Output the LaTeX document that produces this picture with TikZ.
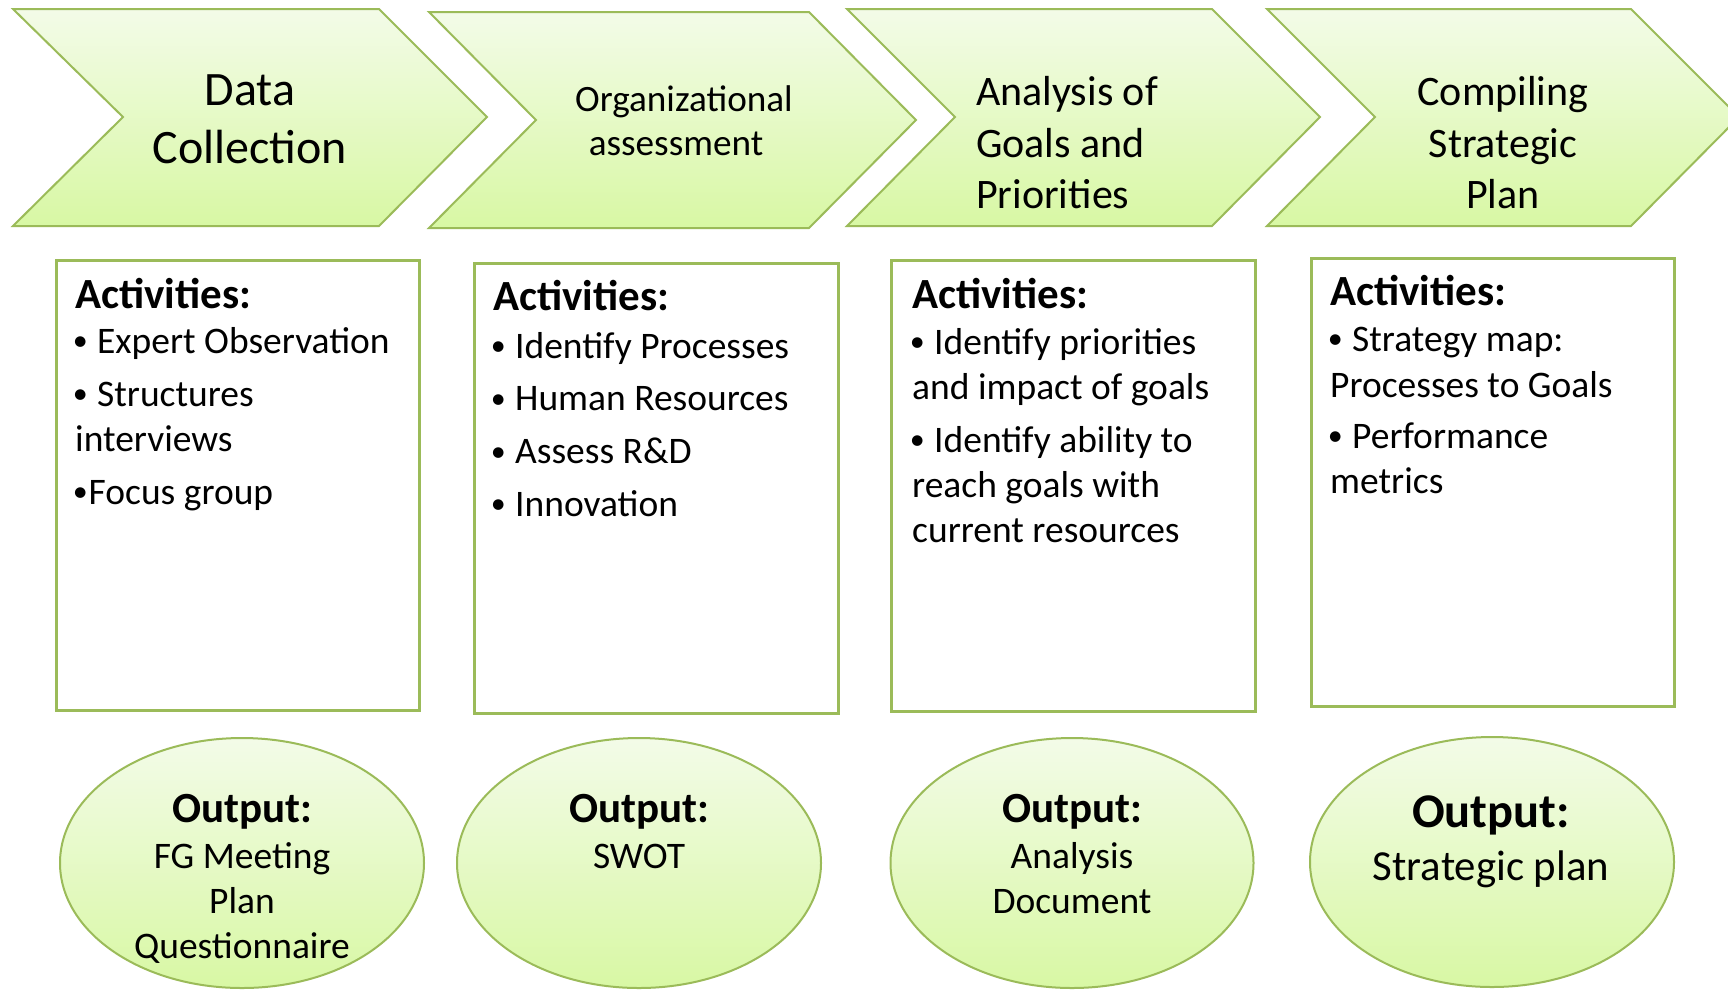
\documentclass[tikz,border=0pt]{standalone}
\usepackage{fontspec}
\setmainfont{Carlito}
\usetikzlibrary{shapes.geometric}
\definecolor{bordergreen}{RGB}{155,187,89}
\definecolor{ftop}{RGB}{243,251,232}
\definecolor{fbot}{RGB}{216,248,164}
\newcommand{\fs}[2]{\fontsize{#1}{#2}\selectfont}
\newcommand{\bu}{\makebox[0.36em][l]{\hspace{-0.06em}\raisebox{0.066em}{\scalebox{0.8}{•}}}}
\tikzset{
  chev/.style={draw=bordergreen, line width=2pt, top color=ftop, bottom color=fbot, line join=miter},
  actbox/.style={draw=bordergreen, line width=2.7pt, fill=white, rectangle, anchor=north west, inner sep=0pt},
  outell/.style={draw=bordergreen, line width=2pt, ellipse, inner sep=0pt, top color=ftop, bottom color=fbot},
  ctxt/.style={anchor=base, inner sep=0pt},
  ltxt/.style={anchor=base west, inner sep=0pt},
  chevfont/.style={font=\fs{48}{58}},
  chevfontb/.style={font=\fs{42}{51}},
  chevfontc/.style={font=\fs{37.2}{45}},
  actfont/.style={font=\fs{43}{52}\bfseries},
  itemfont/.style={font=\fs{37.5}{45}},
  outfont/.style={font=\fs{37.5}{45}},
}
\begin{document}
\begin{tikzpicture}[x=1pt,y=-1pt]
\useasboundingbox (0,0) rectangle (1728,989);
\clip (0,0) rectangle (1728,989);

% chevrons
\path[chev] (13,9) -- (379,9) -- (487,117) -- (379,226) -- (13,226) -- (123,117) -- cycle;
\path[chev] (429,12) -- (809,12) -- (916,120) -- (809,228) -- (429,228) -- (536,120) -- cycle;
\path[chev] (847,9) -- (1212,9) -- (1320,117) -- (1212,226) -- (847,226) -- (955,117) -- cycle;
\path[chev] (1267,9) -- (1631,9) -- (1739,117) -- (1631,226) -- (1267,226) -- (1375,117) -- cycle;

\node[ctxt, chevfont] (c1a) at (250,105) {Data};
\node[ctxt, chevfont] (c1b) at (250,163) {Collection};
\node[ctxt, chevfontc] (c2a) at (684,111) {Organizational};
\node[ctxt, chevfontc] (c2b) at (676,155) {assessment};
\node[ltxt, chevfontb] (c3a) at (976,105) {Analysis of};
\node[ltxt, chevfontb] (c3b) at (976,157) {Goals and};
\node[ltxt, chevfontb] (c3c) at (976,208) {Priorities};
\node[ctxt, chevfontb] (c4a) at (1503,105) {Compiling};
\node[ctxt, chevfontb] (c4b) at (1503,157) {Strategic};
\node[ctxt, chevfontb] (c4c) at (1503,208) {Plan};

% activity boxes
\node[actbox, minimum width=363pt, minimum height=450pt] (box1) at (55,259) {};
\node[actbox, minimum width=364pt, minimum height=450pt] (box2) at (473,262) {};
\node[actbox, minimum width=364pt, minimum height=451pt] (box3) at (890,259) {};
\node[actbox, minimum width=363pt, minimum height=448pt] (box4) at (1310,257) {};

\node[ltxt, actfont] (b1t) at (75,308) {Activities:};
\node[ltxt, itemfont] (b1a) at (75,353) {\bu{} Expert Observation};
\node[ltxt, itemfont] (b1b) at (75,406) {\bu{} Structures};
\node[ltxt, itemfont] (b1c) at (75,451) {interviews};
\node[ltxt, itemfont] (b1d) at (75,504) {\bu{}Focus group};

\node[ltxt, actfont] (b2t) at (493,310) {Activities:};
\node[ltxt, itemfont] (b2a) at (493,358) {\bu{} Identify Processes};
\node[ltxt, itemfont] (b2b) at (493,410.5) {\bu{} Human Resources};
\node[ltxt, itemfont] (b2c) at (493,463.5) {\bu{} Assess R\&D};
\node[ltxt, itemfont] (b2d) at (493,516) {\bu{} Innovation};

\node[ltxt, actfont] (b3t) at (912,308) {Activities:};
\node[ltxt, itemfont] (b3a) at (912,354) {\bu{} Identify priorities};
\node[ltxt, itemfont] (b3b) at (912,399) {and impact of goals};
\node[ltxt, itemfont] (b3c) at (912,452) {\bu{} Identify ability to};
\node[ltxt, itemfont] (b3d) at (912,497) {reach goals with};
\node[ltxt, itemfont] (b3e) at (912,542) {current resources};

\node[ltxt, actfont] (b4t) at (1330,305) {Activities:};
\node[ltxt, itemfont] (b4a) at (1330,351) {\bu{} Strategy map:};
\node[ltxt, itemfont] (b4b) at (1330,397) {Processes to Goals};
\node[ltxt, itemfont] (b4c) at (1330,448) {\bu{} Performance};
\node[ltxt, itemfont] (b4d) at (1330,493) {metrics};

% output ellipses
\node[outell, minimum width=364pt, minimum height=250pt] (o1) at (242,863) {};
\node[outell, minimum width=364pt, minimum height=250pt] (o2) at (639,863) {};
\node[outell, minimum width=363pt, minimum height=250pt] (o3) at (1072,863) {};
\node[outell, minimum width=364pt, minimum height=250pt] (o4) at (1492,862) {};

\node[ctxt, actfont] (o1t) at (242,822) {Output:};
\node[ctxt, outfont] (o1a) at (242,868) {FG Meeting};
\node[ctxt, outfont] (o1b) at (242,913) {Plan};
\node[ctxt, outfont] (o1c) at (242,958) {Questionnaire};

\node[ctxt, actfont] (o2t) at (639,822) {Output:};
\node[ctxt, outfont] (o2a) at (639,868) {SWOT};

\node[ctxt, actfont] (o3t) at (1072,822) {Output:};
\node[ctxt, outfont] (o3a) at (1072,868) {Analysis};
\node[ctxt, outfont] (o3b) at (1072,913) {Document};

\node[ctxt, font=\fs{48.4}{58}\bfseries] (o4t) at (1491,827) {Output:};
\node[ctxt, font=\fs{42.8}{52}] (o4a) at (1491,880) {Strategic plan};
\end{tikzpicture}
\end{document}
